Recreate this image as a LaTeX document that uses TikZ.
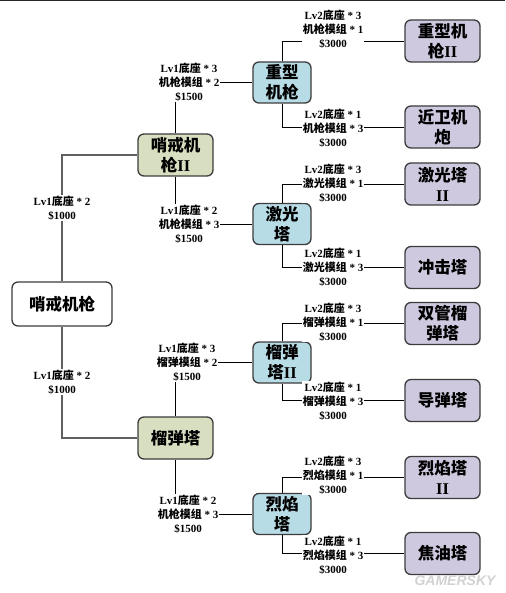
\documentclass[tikz,border=0pt]{standalone}
\usepackage{fontspec}
\setmainfont{Liberation Serif}
\newfontfamily\cjk{Noto Sans CJK SC}
\newfontfamily\wmfont{Liberation Sans}
\newcommand\zh[1]{{\cjk #1}}
\definecolor{boxline}{HTML}{3C3C3C}
\definecolor{greenfill}{HTML}{D8DFC0}
\definecolor{bluefill}{HTML}{B8DCE6}
\definecolor{purplefill}{HTML}{CFC9E0}
\begin{document}
\begin{tikzpicture}[x=1pt,y=-1pt,
 box/.style={draw=boxline, line width=1.3pt, rounded corners=6pt, align=center, inner sep=0pt, font=\fontsize{16.5}{20}\selectfont\bfseries},
 rootbox/.style={box, fill=white, minimum width=100pt, minimum height=44pt},
 greenbox/.style={box, fill=greenfill, minimum width=75pt, minimum height=42pt},
 bluebox/.style={box, fill=bluefill, minimum width=58pt, minimum height=41pt},
 purplebox/.style={box, fill=purplefill, minimum width=75pt, minimum height=42pt},
 lab/.style={fill=white, align=center, inner sep=1pt, font=\fontsize{11}{14}\selectfont\bfseries},
 conn/.style={draw=black, line width=0.9pt},
 rootconn/.style={draw=gray!75!black, line width=1.7pt},
 wm/.style={text=gray!35, font=\wmfont\fontsize{14}{14}\selectfont\bfseries\itshape}]
\useasboundingbox (0,0) rectangle (505,593);
\fill[white] (0,0) rectangle (505,593);
\draw[line width=1.5pt, draw=black!85] (0,0.75) -- (505,0.75);

% nodes
\node[rootbox] (root) at (62,304) {\zh{哨戒机枪}};
\node[greenbox] (g1) at (175.5,155) {\zh{哨戒机}\\\zh{枪}II};
\node[greenbox] (g2) at (175.5,438) {\zh{榴弹塔}};
\node[bluebox] (b1) at (282,82.5) {\zh{重型}\\\zh{机枪}};
\node[bluebox] (b2) at (282,224) {\zh{激光}\\\zh{塔}};
\node[bluebox] (b3) at (282,362.5) {\zh{榴弹}\\\zh{塔}II};
\node[bluebox] (b4) at (282,514) {\zh{烈焰}\\\zh{塔}};
\node[purplebox] (p1) at (442.5,41) {\zh{重型机}\\\zh{枪}II};
\node[purplebox] (p2) at (442.5,127) {\zh{近卫机}\\\zh{炮}};
\node[purplebox] (p3) at (442.5,184) {\zh{激光塔}\\II};
\node[purplebox] (p4) at (442.5,267.5) {\zh{冲击塔}};
\node[purplebox] (p5) at (442.5,323.5) {\zh{双管榴}\\\zh{弹塔}};
\node[purplebox] (p6) at (442.5,400.5) {\zh{导弹塔}};
\node[purplebox] (p7) at (442.5,477.5) {\zh{烈焰塔}\\II};
\node[purplebox] (p8) at (442.5,553.5) {\zh{焦油塔}};

% connectors
\draw[rootconn] (root.north) |- (g1.west);
\draw[rootconn] (root.south) |- (g2.west);
\draw[conn] (g1.north) |- (b1.west);
\draw[conn] (g1.south) |- (b2.west);
\draw[conn] (g2.north) |- (b3.west);
\draw[conn] (g2.south) |- (b4.west);
\draw[conn] (b1.north) |- (p1.west);
\draw[conn] (b1.south) |- (p2.west);
\draw[conn] (b2.north) |- (p3.west);
\draw[conn] (b2.south) |- (p4.west);
\draw[conn] (b3.north) |- (p5.west);
\draw[conn] (b3.south) |- (p6.west);
\draw[conn] (b4.north) |- (p7.west);
\draw[conn] (b4.south) |- (p8.west);

% labels
\node[lab] (l1) at (62,208) {Lv1\zh{底座} * 2\\\$1000};
\node[lab] (l2) at (62,382) {Lv1\zh{底座} * 2\\\$1000};
\node[lab] (l3) at (189,82) {Lv1\zh{底座} * 3\\\zh{机枪模组} * 2\\\$1500};
\node[lab] (l4) at (189,224) {Lv1\zh{底座} * 2\\\zh{机枪模组} * 3\\\$1500};
\node[lab] (l5) at (187,362) {Lv1\zh{底座} * 3\\\zh{榴弹模组} * 2\\\$1500};
\node[lab] (l6) at (188,514) {Lv1\zh{底座} * 2\\\zh{机枪模组} * 3\\\$1500};
\node[lab] (l7) at (333,29) {Lv2\zh{底座} * 3\\\zh{机枪模组} * 1\\\$3000};
\node[lab] (l8) at (333,128) {Lv2\zh{底座} * 1\\\zh{机枪模组} * 3\\\$3000};
\node[lab] (l9) at (333,183) {Lv2\zh{底座} * 3\\\zh{激光模组} * 1\\\$3000};
\node[lab] (l10) at (333,267) {Lv2\zh{底座} * 1\\\zh{激光模组} * 3\\\$3000};
\node[lab] (l11) at (333,322) {Lv2\zh{底座} * 3\\\zh{榴弹模组} * 1\\\$3000};
\node[lab] (l12) at (333,401) {Lv2\zh{底座} * 1\\\zh{榴弹模组} * 3\\\$3000};
\node[lab] (l13) at (333,475) {Lv2\zh{底座} * 3\\\zh{烈焰模组} * 1\\\$3000};
\node[lab] (l14) at (333,555) {Lv2\zh{底座} * 1\\\zh{烈焰模组} * 3\\\$3000};

\node[wm] (wmark) at (455,581) {GAMERSKY};
\end{tikzpicture}
\end{document}
